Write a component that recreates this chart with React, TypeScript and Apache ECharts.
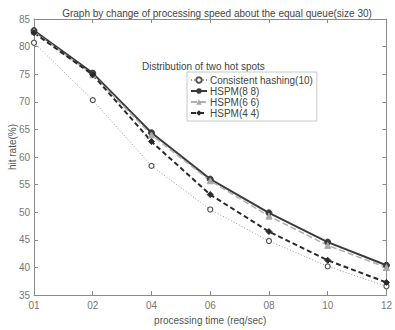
import React, { useEffect, useRef } from "react";
import * as echarts from "echarts";

// Processing time categories (req/sec)
const categories = ["01", "02", "04", "06", "08", "10", "12"];

// Hit rate (%) per scheme
const consistentHashing = [80.7, 70.3, 58.4, 50.5, 44.8, 40.2, 36.6];
const hspm88 = [82.9, 75.2, 64.4, 56.0, 49.9, 44.6, 40.4];
const hspm66 = [82.7, 74.9, 64.0, 55.7, 49.3, 44.0, 40.0];
const hspm44 = [82.5, 74.9, 62.8, 53.2, 46.5, 41.3, 37.3];

const seriesNames = ["Consistent hashing(10)", "HSPM(8 8)", "HSPM(6 6)", "HSPM(4 4)"];

const FONT = "Liberation Sans, Arial, sans-serif";

export default function App() {
  const ref = useRef<HTMLDivElement>(null);

  useEffect(() => {
    document.body.style.margin = "0";
    const chart = echarts.init(ref.current!, undefined, { renderer: "svg" });
    const axisLine = { show: true, lineStyle: { color: "#8a8a8a", width: 1 } };
    const tickIn = { show: true, inside: true, length: 4, lineStyle: { color: "#8a8a8a" } };
    chart.setOption({
      animation: false,
      backgroundColor: "#ffffff",
      textStyle: { fontFamily: FONT },
      title: {
        text: "Graph by change of processing speed about the equal queue(size 30)",
        left: 212,
        textAlign: "center",
        top: 3,
        textStyle: { fontSize: 10, fontWeight: "normal", color: "#444", fontFamily: FONT },
      },
      graphic: [
        {
          type: "text",
          x: 142,
          y: 61,
          style: { text: "Distribution of two hot spots", fontSize: 10, fill: "#444", fontFamily: FONT },
        },
        {
          type: "text",
          x: 12,
          y: 147,
          rotation: Math.PI / 2,
          style: {
            text: "hit rate(%)",
            fontSize: 10,
            fill: "#555",
            fontFamily: FONT,
            align: "center",
            verticalAlign: "middle",
          },
        },
      ],
      legend: {
        orient: "vertical",
        left: 187,
        top: 72,
        itemWidth: 16,
        itemHeight: 7,
        itemGap: 1,
        padding: [3, 4, 3, 3],
        borderColor: "#c8c8c8",
        borderWidth: 1,
        backgroundColor: "#fff",
        textStyle: { fontSize: 10, color: "#444", fontFamily: FONT, padding: [0, 0, 0, -2] },
        data: seriesNames,
      },
      grid: { left: 34, right: 4, top: 19, bottom: 33 },
      xAxis: [
        {
          type: "category",
          data: categories,
          boundaryGap: false,
          axisLine,
          axisTick: { ...tickIn, alignWithLabel: true },
          axisLabel: { fontSize: 10, color: "#777", margin: 5, fontFamily: FONT },
          splitLine: { show: false },
          name: "processing time (req/sec)",
          nameLocation: "middle",
          nameGap: 19,
          nameTextStyle: { fontSize: 10, color: "#555", fontFamily: FONT },
        },
        {
          type: "category",
          data: categories,
          position: "top",
          boundaryGap: false,
          axisLine,
          axisTick: tickIn,
          axisLabel: { show: false },
        },
      ],
      yAxis: [
        {
          type: "value",
          min: 35,
          max: 85,
          interval: 5,
          axisLine,
          axisTick: tickIn,
          splitLine: { show: false },
          axisLabel: { fontSize: 10, color: "#777", margin: 4, fontFamily: FONT },
        },
        {
          type: "value",
          min: 35,
          max: 85,
          interval: 5,
          position: "right",
          axisLine,
          axisTick: tickIn,
          splitLine: { show: false },
          axisLabel: { show: false },
        },
      ],
      series: [
        {
          name: seriesNames[0],
          type: "line",
          data: consistentHashing,
          symbol: "circle",
          symbolSize: 5,
          lineStyle: { color: "#9a9a9a", width: 1, type: [1, 2] },
          itemStyle: { color: "#fff", borderColor: "#555", borderWidth: 1.2 },
        },
        {
          name: seriesNames[1],
          type: "line",
          data: hspm88,
          symbol: "circle",
          symbolSize: 6,
          lineStyle: { color: "#3a3a3a", width: 2 },
          itemStyle: { color: "#3a3a3a", borderColor: "#3a3a3a" },
        },
        {
          name: seriesNames[2],
          type: "line",
          data: hspm66,
          symbol: "triangle",
          symbolSize: 6,
          lineStyle: { color: "#b0b0b0", width: 1.5, type: [6, 3] },
          itemStyle: { color: "#a8a8a8", borderColor: "#a8a8a8" },
        },
        {
          name: seriesNames[3],
          type: "line",
          data: hspm44,
          symbol: "diamond",
          symbolSize: 6,
          lineStyle: { color: "#2a2a2a", width: 2, type: [5, 3] },
          itemStyle: { color: "#2a2a2a", borderColor: "#2a2a2a" },
        },
      ],
    });
    return () => chart.dispose();
  }, []);

  return (
    <div
      ref={ref}
      style={{ position: "fixed", left: 0, top: 0, width: 395, height: 330 }}
    />
  );
}
